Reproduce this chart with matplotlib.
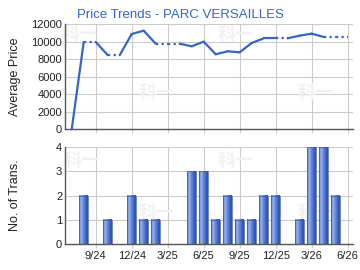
import numpy as np
import matplotlib
matplotlib.use("Agg")
import matplotlib.pyplot as plt
from matplotlib.colors import LinearSegmentedColormap

# Months from 7/24 to 6/26
months = ["7/24", "8/24", "9/24", "10/24", "11/24", "12/24", "1/25", "2/25", "3/25",
          "4/25", "5/25", "6/25", "7/25", "8/25", "9/25", "10/25", "11/25", "12/25",
          "1/26", "2/26", "3/26", "4/26", "5/26", "6/26"]
prices = [0, 9950, None, 8450, None, 10860, 11240, 9755, None,
          None, 9460, 9985, 8550, 8890, 8775, 9835, 10370, 10370,
          None, 10670, 10900, 10520, None, None]
trans = [0, 2, 0, 1, 0, 2, 1, 1, 0,
         0, 3, 3, 1, 2, 1, 1, 2, 2,
         0, 1, 4, 4, 2, 0]
tick_labels = ["9/24", "12/24", "3/25", "6/25", "9/25", "12/25", "3/26", "6/26"]
title = "Price Trends - PARC VERSAILLES"

plt.rcParams['font.family'] = ['Liberation Sans', 'DejaVu Sans']
W, H = 360, 270
fig = plt.figure(figsize=(3.6, 2.7), dpi=100)

LINE = "#3366cc"
GRID = "#cccccc"
AX = "#555555"
TXT = "#222222"

x = np.arange(len(months))
tick_pos = [months.index(t) for t in tick_labels]
xlim = (-0.56, 23.44)

def fx(px):
    return px / W
def fy(py):
    return 1 - py / H

ax1 = fig.add_axes([fx(65), fy(129.3), fx(353) - fx(65), fy(24) - fy(129.3)])
ax2 = fig.add_axes([fx(65), fy(244), fx(353) - fx(65), fy(147.3) - fy(244)])

for ax in (ax1, ax2):
    ax.set_xlim(*xlim)
    ax.set_xticks(tick_pos)
    ax.grid(True, color=GRID, linewidth=0.8, zorder=0)
    ax.set_axisbelow(True)
    for s in ("top", "right"):
        ax.spines[s].set_visible(False)
    for s in ("left", "bottom"):
        ax.spines[s].set_color(AX)
        ax.spines[s].set_linewidth(1.0)
    ax.tick_params(axis="both", length=0, labelsize=8, colors=TXT, pad=2)
    ax.tick_params(axis="x", length=3, color=GRID)

# watermarks (behind data)
wm_kw = dict(color="#f1f1f1", fontsize=13, fontweight="bold",
             family=["Noto Sans CJK SC"], ha="center", va="center", zorder=0.6,
             transform=fig.transFigure)
for (px, py) in [(80, 35), (157, 93), (236, 35), (316, 93)]:
    ax1.text(fx(px), fy(py), "科一", **wm_kw)
for (px, py) in [(82, 160), (157, 213), (236, 160), (316, 213)]:
    ax2.text(fx(px), fy(py), "科一", **wm_kw)

# Price line: carry previous value dotted through missing months
ax1.set_ylim(0, 12000)
ax1.set_yticks(range(0, 12001, 2000))
ax1.set_xticklabels([])
prev_x, prev_y = None, None
for i, p in enumerate(prices):
    if p is None:
        if prev_y is not None:
            ax1.plot([prev_x, i], [prev_y, prev_y], color=LINE, lw=1.6,
                     linestyle=(0, (1, 1.5)), zorder=3, clip_on=False)
            prev_x = i
        continue
    if prev_y is not None:
        ax1.plot([prev_x, i], [prev_y, p], color=LINE, lw=1.6,
                 solid_capstyle="round", zorder=3, clip_on=False)
    prev_x, prev_y = i, p
ax1.set_ylabel("Average Price", fontsize=9, color=TXT)

# Bars with cylinder gradient
ax2.set_ylim(0, 4)
ax2.set_yticks(range(0, 5))
ax2.set_xticklabels(tick_labels)
cmap = LinearSegmentedColormap.from_list(
    "cyl", [(0, "#4f74cf"), (0.25, "#9db5ea"), (0.45, "#6f8fdc"), (0.8, "#3a60c2"), (1, "#2a4fae")])
grad = np.linspace(0, 1, 64).reshape(1, -1)
bw = 0.72
for i, v in enumerate(trans):
    if v <= 0:
        continue
    ax2.imshow(grad, cmap=cmap, aspect="auto", extent=(i - bw / 2, i + bw / 2, 0, v),
               zorder=2, interpolation="bilinear")
    ax2.add_patch(plt.Rectangle((i - bw / 2, 0), bw, v, fill=False,
                                edgecolor="#3459b8", lw=0.5, zorder=3))
ax2.set_xlim(*xlim)
ax2.set_ylim(0, 4)
ax2.set_ylabel("No. of Trans.", fontsize=9, color=TXT)

# place y labels at x ~ 15 px
for ax in (ax1, ax2):
    bb = ax.get_position()
    ax.yaxis.set_label_coords((fx(15) - bb.x0) / bb.width, 0.5)
    ax.yaxis.label.set_va("center")

fig.text(0.5, fy(15), title, ha="center", va="center", color="#3366cc", fontsize=9.5)

fig.savefig("out.png", dpi=100)
